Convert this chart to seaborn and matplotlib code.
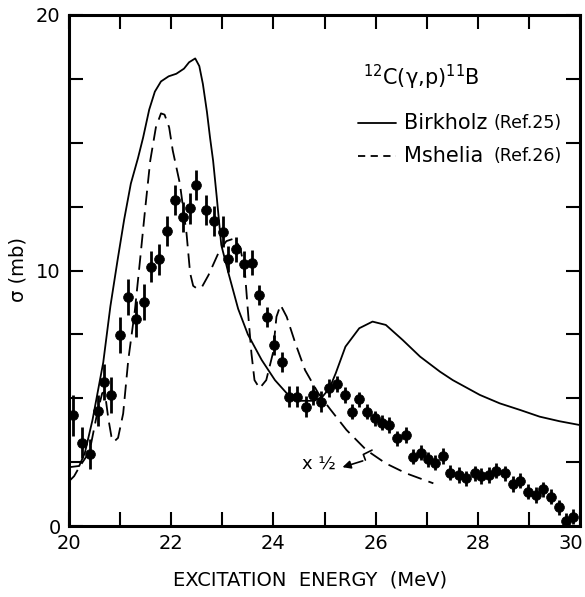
import numpy as np
import pandas as pd
import matplotlib
matplotlib.use("Agg")
import matplotlib.pyplot as plt
import matplotlib.transforms as mtransforms
import seaborn as sns
from matplotlib.lines import Line2D

# ---------------- data ----------------
birk_x = [20.0, 20.2, 20.31, 20.46, 20.67, 20.81, 20.95, 21.08, 21.21, 21.35, 21.45, 21.57, 21.68,
          21.8, 21.95, 22.1, 22.25, 22.35, 22.47, 22.55, 22.62, 22.7, 22.76, 22.82, 22.89, 22.98,
          23.12, 23.31, 23.5, 23.77, 24.03, 24.29, 24.55, 24.8, 24.96, 25.1, 25.22, 25.41, 25.68,
          25.94, 26.2, 26.53, 26.87, 27.26, 27.51, 28.04, 28.43, 28.83, 29.21, 29.6, 30.0]
birk_y = [2.3, 2.35, 2.86, 4.15, 6.4, 8.6, 10.4, 12.0, 13.4, 14.4, 15.2, 16.3, 17.0,
          17.4, 17.6, 17.7, 17.9, 18.15, 18.3, 18.0, 17.3, 16.2, 15.2, 14.3, 12.9, 11.0,
          9.9, 8.5, 7.5, 6.5, 5.71, 5.13, 4.9, 4.9, 5.06, 5.4, 5.98, 7.02, 7.74,
          8.0, 7.87, 7.28, 6.63, 6.04, 5.71, 5.13, 4.8, 4.54, 4.28, 4.1, 3.95]

mshe_x = [20.0, 20.1, 20.2, 20.4, 20.55, 20.65, 20.7, 20.77, 20.83, 20.88, 20.96, 21.06, 21.16,
          21.29, 21.39, 21.49, 21.59, 21.7, 21.8, 21.87, 21.96, 22.03, 22.17, 22.3, 22.37, 22.43,
          22.5, 22.6, 22.73, 22.95, 23.08, 23.23, 23.35, 23.44, 23.5, 23.57, 23.63, 23.73, 23.86,
          23.99, 24.06, 24.14, 24.26, 24.43, 24.62, 24.88, 25.1, 25.43, 25.82, 26.2, 26.6, 27.13]
mshe_y = [1.75, 1.95, 2.3, 2.9, 4.4, 5.2, 5.25, 4.2, 3.5, 3.3, 3.45, 4.4, 6.5,
          8.45, 10.4, 12.4, 14.3, 15.6, 16.15, 16.1, 15.6, 14.7, 13.4, 11.45, 9.9, 9.4,
          9.3, 9.35, 9.82, 10.8, 11.15, 11.25, 10.9, 10.0, 8.45, 6.76, 5.71, 5.39, 5.71,
          6.76, 8.19, 8.65, 8.19, 7.15, 6.1, 5.19, 4.6, 3.76, 2.97, 2.45, 2.06, 1.67]

pts_x = [20.08, 20.25, 20.41, 20.56, 20.69, 20.83, 21.00, 21.16, 21.31, 21.47, 21.60, 21.77, 21.91,
         22.07, 22.24, 22.37, 22.49, 22.68, 22.84, 23.01, 23.12, 23.27, 23.43, 23.59, 23.72, 23.87,
         24.02, 24.16, 24.31, 24.47, 24.64, 24.78, 24.93, 25.08, 25.24, 25.40, 25.53, 25.68, 25.84,
         25.99, 26.12, 26.27, 26.42, 26.60, 26.74, 26.89, 27.03, 27.16, 27.31, 27.46, 27.64, 27.77,
         27.95, 28.07, 28.22, 28.36, 28.53, 28.68, 28.83, 28.98, 29.13, 29.28, 29.43, 29.59, 29.72, 29.87]
pts_y = [4.34, 3.26, 2.82, 4.51, 5.65, 5.13, 7.48, 8.95, 8.09, 8.78, 10.15, 10.44, 11.55,
         12.76, 12.10, 12.43, 13.35, 12.37, 11.94, 11.52, 10.45, 10.83, 10.25, 10.31, 9.04, 8.17,
         7.08, 6.41, 5.06, 5.06, 4.67, 5.13, 4.87, 5.39, 5.56, 5.13, 4.47, 4.96, 4.47,
         4.21, 4.04, 3.95, 3.43, 3.56, 2.71, 2.87, 2.61, 2.48, 2.74, 2.09, 2.00, 1.87,
         2.06, 1.96, 2.00, 2.16, 2.06, 1.64, 1.77, 1.34, 1.21, 1.44, 1.15, 0.73, 0.21, 0.36]
pts_err = [0.8, 0.6, 0.6, 0.6, 0.7, 0.7, 0.7, 0.7, 0.7, 0.7, 0.6, 0.6, 0.6,
           0.6, 0.6, 0.6, 0.6, 0.6, 0.6, 0.6, 0.5, 0.5, 0.5, 0.5, 0.4, 0.4,
           0.4, 0.4, 0.4, 0.4, 0.4, 0.4, 0.4, 0.35, 0.3, 0.3, 0.3, 0.3, 0.3,
           0.3, 0.3, 0.3, 0.3, 0.3, 0.3, 0.3, 0.3, 0.3, 0.3, 0.3, 0.3, 0.3,
           0.3, 0.3, 0.3, 0.3, 0.3, 0.3, 0.3, 0.3, 0.3, 0.3, 0.3, 0.3, 0.3, 0.3]

# zigzag arrow (x 1/2 marker)
bolt_x = [25.93, 25.76, 25.80, 25.30]
bolt_y = [2.97, 2.80, 2.58, 2.27]

xticks_major = [20, 22, 24, 26, 28, 30]
yticks_major = [0, 10, 20]

# ---------------- plot ----------------
sns.set_theme(style="ticks")
plt.rcParams['font.family'] = ['DejaVu Sans']
plt.rcParams['text.color'] = 'black'
plt.rcParams['xtick.color'] = 'black'
plt.rcParams['ytick.color'] = 'black'
plt.rcParams['xtick.labelcolor'] = 'black'
plt.rcParams['ytick.labelcolor'] = 'black'
plt.rcParams['axes.labelcolor'] = 'black'

fig = plt.figure(figsize=(5.85, 5.97), dpi=100)
ax = fig.add_axes([69/585, 1-526/597, (580-69)/585, (526-15)/597])

df_b = pd.DataFrame({"E": birk_x, "s": birk_y})
df_m = pd.DataFrame({"E": mshe_x, "s": mshe_y})
df_p = pd.DataFrame({"E": pts_x, "s": pts_y})

sns.lineplot(data=df_b, x="E", y="s", ax=ax, color="black", lw=1.3, sort=False)
sns.lineplot(data=df_m, x="E", y="s", ax=ax, color="black", lw=1.3, sort=False)
ax.get_lines()[-1].set_linestyle((0, (8, 4)))
ax.errorbar(pts_x, pts_y, yerr=pts_err, fmt='none', ecolor='black', elinewidth=2.0, capsize=0)
sns.scatterplot(data=df_p, x="E", y="s", ax=ax, color="black", s=50, edgecolor="black",
                linewidth=0.5, zorder=5)

# zigzag arrow
ax.plot(bolt_x[:3], bolt_y[:3], color="black", lw=1.2)
ax.annotate("", xy=(bolt_x[3], bolt_y[3]), xytext=(bolt_x[2], bolt_y[2]),
            arrowprops=dict(arrowstyle="-|>", color="black", lw=1.2, mutation_scale=12))
ax.text(24.55, 2.4, "x ½", fontsize=13, ha="left", va="center")

ax.set_xlim(20, 30)
ax.set_ylim(0, 20)
ax.set_xticks(np.arange(20, 30.01, 1))
ax.set_xticklabels([str(int(v)) if int(v) in xticks_major else "" for v in np.arange(20, 30.01, 1)])
ax.set_yticks(np.arange(0, 20.01, 2.5))
ax.set_yticklabels([str(int(v)) if v in yticks_major else "" for v in np.arange(0, 20.01, 2.5)])
ax.tick_params(axis="both", direction="in", length=10, width=1.5, labelsize=14,
               top=True, right=True, pad=6, colors="black")
# keep the "30" label inside the figure
lbl30 = ax.get_xticklabels()[-1]
lbl30.set_transform(lbl30.get_transform() + mtransforms.ScaledTranslation(-9/100, 0, fig.dpi_scale_trans))
for sp in ax.spines.values():
    sp.set_linewidth(2.2)
    sp.set_color("black")
ax.set_xlabel("")
ax.set_ylabel("")

fig.text(310/585, 1-580/597, "EXCITATION  ENERGY  (MeV)", ha="center", va="center", fontsize=14,
         color="black")
fig.text(18/585, 1-270/597, "σ (mb)", ha="center", va="center", rotation=90, fontsize=14,
         color="black")

# legend-like annotations
ax.text(0.575, 0.878, r"$^{12}$C(γ,p)$^{11}$B", transform=ax.transAxes, fontsize=15,
        ha="left", va="center")
ax.add_line(Line2D([0.565, 0.64], [0.788, 0.788], transform=ax.transAxes, color="black", lw=1.3))
ax.text(0.655, 0.788, "Birkholz", transform=ax.transAxes, fontsize=15, ha="left", va="center")
ax.text(0.83, 0.788, "(Ref.25)", transform=ax.transAxes, fontsize=12.5, ha="left", va="center")
ax.add_line(Line2D([0.565, 0.64], [0.725, 0.725], transform=ax.transAxes, color="black", lw=1.3,
                   linestyle=(0, (4, 3))))
ax.text(0.655, 0.725, "Mshelia", transform=ax.transAxes, fontsize=15, ha="left", va="center")
ax.text(0.83, 0.725, "(Ref.26)", transform=ax.transAxes, fontsize=12.5, ha="left", va="center")

fig.savefig("out.png", dpi=100, facecolor="white")
